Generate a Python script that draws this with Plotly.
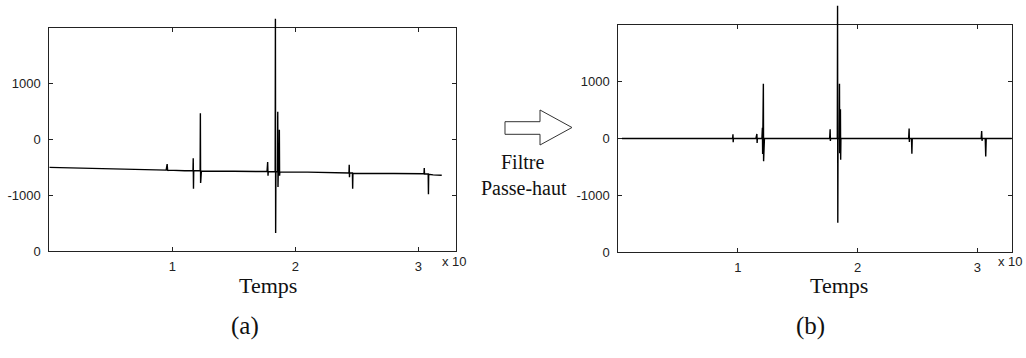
import plotly.graph_objects as go

# ---------------- data (time in units of 10^4 samples) ----------------
t_a = [0.00, 0.30, 0.60, 0.950, 0.958, 0.962, 0.966, 1.10, 1.168, 1.170, 1.172, 1.174,
       1.226, 1.228, 1.230, 1.232, 1.236, 1.50, 1.770, 1.775, 1.778, 1.780, 1.836, 1.838,
       1.840, 1.842, 1.855, 1.857, 1.859, 1.861, 1.868, 1.870, 1.872, 1.874, 2.10, 2.436,
       2.438, 2.440, 2.442, 2.464, 2.466, 2.468, 2.80, 3.046, 3.048, 3.050, 3.080, 3.082,
       3.084, 3.12, 3.19]
y_a = [-500, -520, -535, -550, -440, -560, -550, -560, -560, -335, -882, -560,
       -560, 470, -780, -720, -570, -570, -575, -406, -650, -575, -578, 2164,
       -1676, -578, -578, 500, -850, -580, -580, 176, -650, -580, -585, -600,
       -453, -675, -600, -600, -882, -605, -610, -615, -511, -620, -620, -983,
       -625, -635, -640]

t_b = [0.03, 0.50, 0.955, 0.958, 0.960, 0.962, 1.15, 1.158, 1.160, 1.162, 1.200, 1.204,
       1.206, 1.208, 1.212, 1.214, 1.216, 1.219, 1.221, 1.50, 1.766, 1.770, 1.772, 1.774,
       1.830, 1.832, 1.834, 1.836, 1.846, 1.848, 1.850, 1.852, 1.854, 1.856, 1.858, 1.860,
       2.10, 2.426, 2.430, 2.432, 2.434, 2.450, 2.453, 2.456, 2.80, 3.032, 3.036, 3.039,
       3.042, 3.066, 3.070, 3.074, 3.29]
y_b = [0, 0, 0, 75, -65, 0, 0, 80, -80, 0, 0, 190,
       -275, 0, 965, -400, 0, -180, 0, 0, 0, 163, -42, 0,
       0, 2340, -1486, 0, 0, 965, -258, 0, 0, 514, -375, 0,
       0, 0, 175, -60, 0, 0, -270, 0, 0, 0, 133, -40,
       0, 0, -316, 0, 0]

x_ticks = [1, 2, 3]
x_ticklabels = ["1", "2", "3"]
y_ticks = [-2000, -1000, 0, 1000, 2000]
y_ticklabels = ["0", "-1000", "0", "1000", ""]

# ---------------- geometry helpers (pixels -> paper) ----------------
W, H = 1026, 358
def px(x):
    return x / W
def py(y):
    return 1 - y / H

fig = go.Figure()

panels = [
    dict(l=49.3, r=456.0, t=28.0, b=251.0, xmax=3.306, t_=t_a, y_=y_a, extra=16),
    dict(l=618.3, r=1011.7, t=25.0, b=252.0, xmax=3.287, t_=t_b, y_=y_b, extra=22),
]

tickfont = dict(family="Liberation Sans, Arial, sans-serif", size=13, color="#222")

for i, p in enumerate(panels):
    n_frame = 2 * i + 1
    n_data = 2 * i + 2
    xa_f = "xaxis" if n_frame == 1 else f"xaxis{n_frame}"
    ya_f = "yaxis" if n_frame == 1 else f"yaxis{n_frame}"
    xa_d = f"xaxis{n_data}"
    ya_d = f"yaxis{n_data}"
    xr_f = "x" if n_frame == 1 else f"x{n_frame}"
    yr_f = "y" if n_frame == 1 else f"y{n_frame}"
    xr_d = f"x{n_data}"
    yr_d = f"y{n_data}"

    xdom = [px(p["l"]), px(p["r"])]
    ydom = [py(p["b"]), py(p["t"])]
    scale = 4000.0 / (p["b"] - p["t"])
    ytop = 2000 + p["extra"] * scale
    ydom_d = [py(p["b"]), py(p["t"] - p["extra"])]

    fig.add_trace(go.Scatter(x=[], y=[], xaxis=xr_f, yaxis=yr_f, showlegend=False,
                             hoverinfo="skip"))
    fig.add_trace(go.Scatter(x=p["t_"], y=p["y_"], mode="lines", xaxis=xr_d, yaxis=yr_d,
                             line=dict(color="black", width=1.4), showlegend=False))

    fig.update_layout({
        xa_f: dict(domain=xdom, range=[0, p["xmax"]], anchor=yr_f, showline=True,
                   linecolor="#222", linewidth=1, mirror="ticks", ticks="inside",
                   ticklen=4, tickcolor="#222", tickvals=x_ticks, ticktext=x_ticklabels,
                   showgrid=False, zeroline=False, tickfont=tickfont, automargin=False,
                   ticklabelstandoff=3, fixedrange=True),
        ya_f: dict(domain=ydom, range=[-2000, 2000], anchor=xr_f, showline=True,
                   linecolor="#222", linewidth=1, mirror="ticks", ticks="inside",
                   ticklen=4, tickcolor="#222", tickvals=y_ticks, ticktext=y_ticklabels,
                   showgrid=False, zeroline=False, tickfont=tickfont, automargin=False,
                   ticklabelstandoff=5, fixedrange=True),
        xa_d: dict(domain=xdom, range=[0, p["xmax"]], anchor=yr_d, visible=False,
                   automargin=False, fixedrange=True),
        ya_d: dict(domain=ydom_d, range=[-2000, ytop], anchor=xr_d, visible=False,
                   automargin=False, fixedrange=True),
    })

serif = "Liberation Serif, Times New Roman, serif"
annotations = [
    dict(text="Temps", x=px(268), y=py(285), font=dict(family=serif, size=22, color="#111")),
    dict(text="Temps", x=px(839), y=py(285), font=dict(family=serif, size=22, color="#111")),
    dict(text="x 10", x=px(454), y=py(261), font=dict(family="Liberation Sans, Arial", size=13, color="#222")),
    dict(text="x 10", x=px(1010), y=py(261), font=dict(family="Liberation Sans, Arial", size=13, color="#222")),
    dict(text="Filtre", x=px(522), y=py(162), font=dict(family=serif, size=20, color="#111")),
    dict(text="Passe-haut", x=px(524), y=py(188), font=dict(family=serif, size=20, color="#111")),
    dict(text="(a)", x=px(245), y=py(326), font=dict(family=serif, size=25, color="#111")),
    dict(text="(b)", x=px(810), y=py(326), font=dict(family=serif, size=25, color="#111")),
]
for a in annotations:
    a.update(xref="paper", yref="paper", showarrow=False, xanchor="center", yanchor="middle")

arrow_pts = [(505, 121.7), (540, 121.7), (540, 110), (572, 127.5), (540, 145), (540, 134.3), (505, 134.3)]
path = "M " + " L ".join(f"{px(x):.5f},{py(y):.5f}" for x, y in arrow_pts) + " Z"

fig.update_layout(
    template="none",
    width=W, height=H, margin=dict(l=0, r=0, t=0, b=0, autoexpand=False),
    paper_bgcolor="white", plot_bgcolor="rgba(0,0,0,0)",
    annotations=annotations,
    shapes=[dict(type="path", path=path, xref="paper", yref="paper",
                 line=dict(color="#333", width=1), fillcolor="white")],
    showlegend=False,
)

fig.write_html("out.html", config={"displayModeBar": False},
               post_script="document.body.style.margin='0';document.body.style.overflow='hidden';")
